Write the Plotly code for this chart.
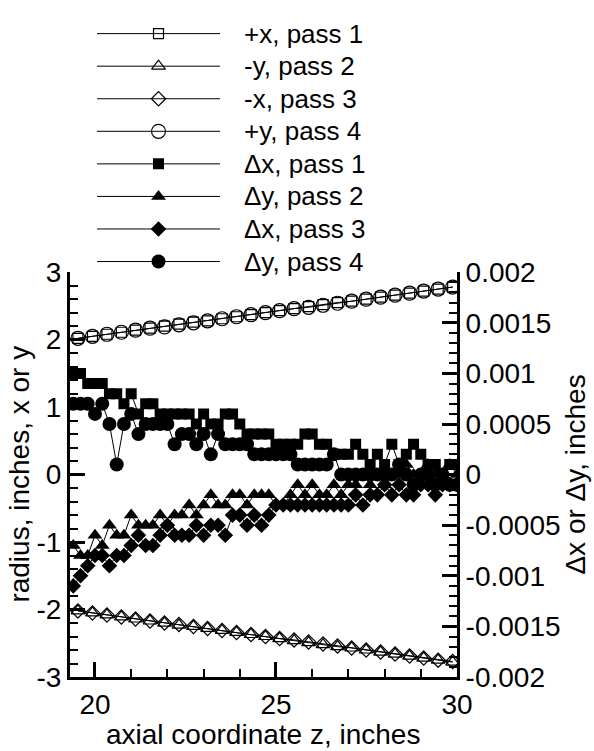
import plotly.graph_objects as go

# ---------------- data ----------------
z_radius = [19.53, 19.93, 20.33, 20.73, 21.12, 21.52, 21.92, 22.32, 22.72, 23.11,
            23.51, 23.91, 24.31, 24.71, 25.10, 25.50, 25.90, 26.30, 26.70, 27.09,
            27.49, 27.89, 28.29, 28.69, 29.08, 29.48, 29.88]
r_px_pass1 = [2.02, 2.05, 2.08, 2.11, 2.14, 2.17, 2.20, 2.23, 2.26, 2.28,
              2.31, 2.34, 2.37, 2.40, 2.43, 2.46, 2.49, 2.52, 2.55, 2.57,
              2.60, 2.63, 2.66, 2.69, 2.72, 2.75, 2.78]
r_my_pass2 = [-2.02, -2.05, -2.08, -2.11, -2.14, -2.17, -2.20, -2.23, -2.25, -2.28,
              -2.31, -2.34, -2.37, -2.40, -2.43, -2.46, -2.49, -2.52, -2.55, -2.57,
              -2.60, -2.63, -2.66, -2.69, -2.72, -2.75, -2.78]
r_mx_pass3 = [-2.02, -2.05, -2.08, -2.11, -2.14, -2.17, -2.20, -2.22, -2.25, -2.28,
              -2.31, -2.34, -2.37, -2.40, -2.43, -2.45, -2.48, -2.51, -2.54, -2.57,
              -2.60, -2.63, -2.66, -2.69, -2.72, -2.75, -2.77]
r_py_pass4 = [2.02, 2.05, 2.08, 2.11, 2.14, 2.17, 2.19, 2.22, 2.25, 2.28,
              2.31, 2.34, 2.37, 2.40, 2.43, 2.46, 2.48, 2.51, 2.54, 2.57,
              2.60, 2.63, 2.66, 2.69, 2.72, 2.75, 2.78]

z_delta = [19.4, 19.6, 19.8, 20.0, 20.2, 20.4, 20.6, 20.8, 21.0, 21.2,
           21.4, 21.6, 21.8, 22.0, 22.2, 22.4, 22.6, 22.8, 23.0, 23.2,
           23.4, 23.6, 23.8, 24.0, 24.2, 24.4, 24.6, 24.8, 25.0, 25.2,
           25.4, 25.6, 25.8, 26.0, 26.2, 26.4, 26.6, 26.8, 27.0, 27.2,
           27.4, 27.6, 27.8, 28.0, 28.2, 28.4, 28.6, 28.8, 29.0, 29.2,
           29.4, 29.6, 29.8, 30.0]
dx_pass1 = [0.0010, 0.0010, 0.0009, 0.0009, 0.0009, 0.0008, 0.0008, 0.0007, 0.0008, 0.0006,
            0.0007, 0.0007, 0.0006, 0.0006, 0.0006, 0.0006, 0.0006, 0.0005, 0.0006, 0.0005,
            0.0005, 0.0006, 0.0006, 0.0005, 0.0004, 0.0004, 0.0004, 0.0004, 0.0003, 0.0003,
            0.0003, 0.0003, 0.0004, 0.0004, 0.0003, 0.0003, 0.0002, 0.0002, 0.0002, 0.0003,
            0.0002, 0.0001, 0.0002, 0.0001, 0.0003, 0.0001, 0.0002, 0.0003, 0.0002, 0.0001,
            0.0001, 0.0000, 0.0001, 0.0001]
dy_pass2 = [-0.0007, -0.0008, -0.0008, -0.0006, -0.0007, -0.0005, -0.0006, -0.0006, -0.0004, -0.0005,
            -0.0005, -0.0005, -0.0004, -0.0005, -0.0004, -0.0004, -0.0003, -0.0004, -0.0003, -0.0002,
            -0.0003, -0.0003, -0.0002, -0.0002, -0.0003, -0.0002, -0.0002, -0.0002, -0.0003, -0.0003,
            -0.0002, -0.0001, -0.0002, -0.0001, -0.0002, -0.0002, -0.0001, -0.0002, -0.0001, -0.0001,
            0.0000, -0.0001, 0.0000, -0.0001, 0.0000, 0.0000, 0.0001, 0.0000, 0.0000, 0.0001,
            0.0000, 0.0000, 0.0001, 0.0000]
dx_pass3 = [-0.0011, -0.0010, -0.0009, -0.0008, -0.0008, -0.0009, -0.0008, -0.0008, -0.0007, -0.0006,
            -0.0007, -0.0007, -0.0006, -0.0005, -0.0006, -0.0006, -0.0006, -0.0005, -0.0006, -0.0005,
            -0.0005, -0.0006, -0.0004, -0.0004, -0.0005, -0.0004, -0.0005, -0.0004, -0.0003, -0.0003,
            -0.0003, -0.0003, -0.0003, -0.0003, -0.0003, -0.0003, -0.0003, -0.0003, -0.0003, -0.0002,
            -0.0003, -0.0002, -0.0002, -0.0001, -0.0002, -0.0001, -0.0002, -0.0002, -0.0001, -0.0001,
            -0.0002, -0.0001, -0.0001, -0.0001]
dy_pass4 = [0.0007, 0.0007, 0.0007, 0.0006, 0.0007, 0.0005, 0.0001, 0.0005, 0.0006, 0.0004,
            0.0005, 0.0005, 0.0005, 0.0005, 0.0003, 0.0004, 0.0004, 0.0003, 0.0004, 0.0002,
            0.0004, 0.0003, 0.0003, 0.0003, 0.0003, 0.0002, 0.0002, 0.0002, 0.0002, 0.0002,
            0.0002, 0.0001, 0.0001, 0.0001, 0.0001, 0.0001, 0.0002, 0.0000, 0.0000, 0.0000,
            0.0000, 0.0000, 0.0000, 0.0000, 0.0000, 0.0001, 0.0000, -0.0001, 0.0000, 0.0000,
            -0.0001, 0.0000, -0.0001, -0.0001]

legend_labels = ["+x, pass 1", "-y, pass 2", "-x, pass 3", "+y, pass 4",
                 "\u0394x, pass 1", "\u0394y, pass 2", "\u0394x, pass 3", "\u0394y, pass 4"]

x_tickvals = [20, 25, 30]
x_ticktext = ["20", "25", "30"]
y_tickvals = [3, 2, 1, 0, -1, -2, -3]
y_ticktext = ["3", "2", "1", "0", "-1", "-2", "-3"]
y2_tickvals = [0.002, 0.0015, 0.001, 0.0005, 0, -0.0005, -0.001, -0.0015, -0.002]
y2_ticktext = ["0.002", "0.0015", "0.001", "0.0005", "0", "-0.0005", "-0.001", "-0.0015", "-0.002"]

# ---------------- styles ----------------
FONT = "Liberation Sans, Arial, sans-serif"
styles = [
    dict(symbol="square-open", size=10, line=dict(width=1.2, color="black")),
    dict(symbol="triangle-up-open", size=12, line=dict(width=1.2, color="black")),
    dict(symbol="diamond-open", size=11, line=dict(width=1.2, color="black")),
    dict(symbol="circle-open", size=14, line=dict(width=1.2, color="black")),
    dict(symbol="square", size=11, color="black"),
    dict(symbol="triangle-up", size=13, color="black"),
    dict(symbol="diamond", size=12, color="black"),
    dict(symbol="circle", size=14, color="black"),
]
series = [
    (z_radius, r_px_pass1, "y"),
    (z_radius, r_my_pass2, "y"),
    (z_radius, r_mx_pass3, "y"),
    (z_radius, r_py_pass4, "y"),
    (z_delta, dx_pass1, "y2"),
    (z_delta, dy_pass2, "y2"),
    (z_delta, dx_pass3, "y2"),
    (z_delta, dy_pass4, "y2"),
]

fig = go.Figure()
for (xs, ys, ax), st, name in zip(series, styles, legend_labels):
    fig.add_trace(go.Scatter(x=xs, y=ys, yaxis=ax, xaxis="x", mode="lines+markers",
                             name=name, line=dict(color="black", width=1),
                             marker=dict(color="black", **{k: v for k, v in st.items() if k != "color"}),
                             showlegend=False))

# custom legend (long sample lines like the original)
for i, (st, name) in enumerate(zip(styles, legend_labels)):
    fig.add_trace(go.Scatter(x=[0, 1], y=[i, i], xaxis="x3", yaxis="y3", mode="lines",
                             line=dict(color="black", width=1), showlegend=False, hoverinfo="skip"))
    fig.add_trace(go.Scatter(x=[0.5], y=[i], xaxis="x3", yaxis="y3", mode="markers",
                             marker=dict(color="black", **{k: v for k, v in st.items() if k != "color"}),
                             showlegend=False, hoverinfo="skip"))

# page geometry (pixels)
W, H = 594, 751
L, R, T, B = 70, 457, 2, 677
pw, ph = R - L, B - T

def px_x(p):
    return (p - L) / pw

def px_y(p):
    return (B - p) / ph

row0, row_step = 19.0, 33.3
leg_top = row0 - 0.5 * row_step
leg_bot = row0 + 7.5 * row_step

annotations = []
for i, name in enumerate(legend_labels):
    annotations.append(dict(text=name, xref="paper", yref="y3", x=px_x(242), y=i,
                            xanchor="left", yanchor="middle", showarrow=False,
                            font=dict(family=FONT, size=26, color="black")))
annotations.append(dict(text="axial coordinate z, inches", xref="paper", yref="paper",
                        x=px_x(263), y=px_y(736), xanchor="center", yanchor="middle",
                        showarrow=False, font=dict(family=FONT, size=28, color="black")))
annotations.append(dict(text="radius, inches, x or y", xref="paper", yref="paper",
                        x=px_x(20), y=px_y(470), xanchor="center", yanchor="middle", textangle=-90,
                        showarrow=False, font=dict(family=FONT, size=28, color="black")))
annotations.append(dict(text="\u0394x or \u0394y, inches", xref="paper", yref="paper",
                        x=px_x(576), y=px_y(470), xanchor="center", yanchor="middle", textangle=-90,
                        showarrow=False, font=dict(family=FONT, size=28, color="black")))

tickfont = dict(family=FONT, size=28, color="black")
common_axis = dict(showgrid=False, zeroline=False, showline=True, linecolor="black", linewidth=3,
                   ticks="inside", tickcolor="black", tickwidth=3, ticklen=15, tickfont=tickfont)

main_dom = [0, px_y(263)]

fig.update_layout(
    width=W, height=H,
    margin=dict(l=L, r=W - R, t=T, b=H - B, pad=0),
    paper_bgcolor="white", plot_bgcolor="white",
    showlegend=False,
    annotations=annotations,
    xaxis=dict(range=[19.31, 30.0], domain=[0, 1], anchor="y",
               tickvals=x_tickvals, ticktext=x_ticktext,
               minor=dict(dtick=1, tick0=20, ticks="inside", ticklen=8, tickwidth=1.5, tickcolor="black"),
               **common_axis),
    yaxis=dict(range=[-3, 3], domain=main_dom, anchor="x",
               tickvals=y_tickvals, ticktext=y_ticktext,
               minor=dict(dtick=0.2, tick0=0, ticks="inside", ticklen=8, tickwidth=1.5, tickcolor="black"),
               **common_axis),
    yaxis2=dict(range=[-0.002, 0.002], overlaying="y", side="right", anchor="x",
                tickvals=y2_tickvals, ticktext=y2_ticktext,
                minor=dict(dtick=0.0001, tick0=0, ticks="inside", ticklen=8, tickwidth=1.5, tickcolor="black"),
                **common_axis),
    xaxis3=dict(domain=[px_x(97), px_x(220)], range=[0, 1], anchor="y3", visible=False),
    yaxis3=dict(domain=[px_y(leg_bot), px_y(leg_top)], range=[7.5, -0.5], anchor="x3", visible=False),
)

fig.write_html("out.html")
